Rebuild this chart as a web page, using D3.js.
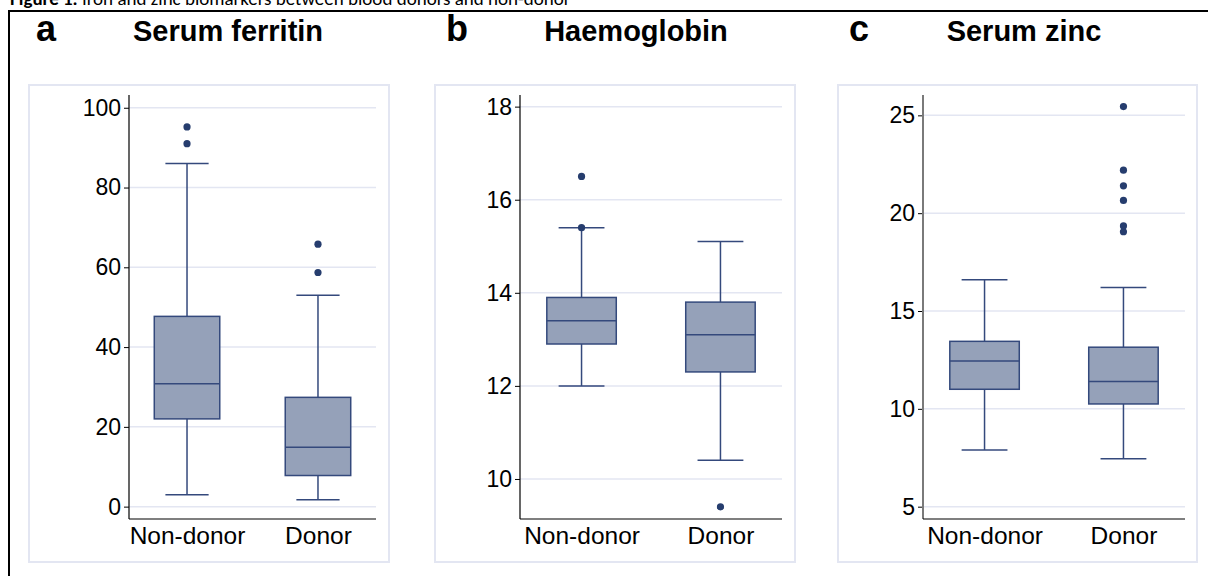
<!DOCTYPE html>
<html>
<head>
<meta charset="utf-8">
<script src="https://cdn.jsdelivr.net/npm/d3@7"></script>
<style>
  html, body { margin: 0; padding: 0; background: #fff; }
  svg { display: block; }
</style>
</head>
<body>
<svg id="chart" width="1208" height="576"></svg>
<script>
// ---------- DATA ----------
const categories = ["Non-donor", "Donor"];

// [lower whisker, Q1, median, Q3, upper whisker]
const ferritinBox = [[3.0, 22.0, 30.8, 47.7, 86.0], [1.7, 7.8, 14.9, 27.4, 53.0]];
const ferritinOutliers = [[91.0, 95.2], [58.7, 65.8]];
const ferritinTicks = [0, 20, 40, 60, 80, 100];

const haemoglobinBox = [[12.0, 12.9, 13.4, 13.9, 15.4], [10.4, 12.3, 13.1, 13.8, 15.1]];
const haemoglobinOutliers = [[15.4, 16.5], [9.4]];
const haemoglobinTicks = [10, 12, 14, 16, 18];

const zincBox = [[7.9, 11.0, 12.45, 13.45, 16.6], [7.45, 10.25, 11.4, 13.15, 16.2]];
const zincOutliers = [[], [19.05, 19.35, 20.65, 21.4, 22.2, 25.45]];
const zincTicks = [5, 10, 15, 20, 25];

const panelLetters = ["a", "b", "c"];
const panelTitles = ["Serum ferritin", "Haemoglobin", "Serum zinc"];
const captionBold = "Figure 1.";
const captionText = " Iron and zinc biomarkers between blood donors and non-donor";

// ---------- DRAW ----------
const svg = d3.select("#chart");
const FONT = "'Liberation Sans', Arial, sans-serif";

// caption (clipped at top, as in the reference)
const cap = svg.append("text").attr("x", 10).attr("y", 5)
  .attr("font-family", "Carlito, 'Liberation Sans', Arial, sans-serif").attr("font-size", 19).attr("fill", "#000");
cap.append("tspan").attr("font-weight", "bold").text(captionBold);
cap.append("tspan").text(captionText);

// outer frame
svg.append("rect").attr("x", 9).attr("y", 11).attr("width", 1400).attr("height", 800)
  .attr("fill", "none").attr("stroke", "#000").attr("stroke-width", 2);

const panels = [
  { box: ferritinBox, out: ferritinOutliers, ticks: ferritinTicks, domain: [-3.1, 103.2],
    frame: [29, 389], axisX: 129, right: 376, letterX: 36, titleX: 228, axisColor: "#000", axisW: 1.2 },
  { box: haemoglobinBox, out: haemoglobinOutliers, ticks: haemoglobinTicks, domain: [9.14, 18.25],
    frame: [435, 795], axisX: 520, right: 782, letterX: 446, titleX: 636, axisColor: "#000", axisW: 1.2 },
  { box: zincBox, out: zincOutliers, ticks: zincTicks, domain: [4.37, 26.04],
    frame: [838, 1197], axisX: 923, right: 1185, letterX: 849, titleX: 1024, axisColor: "#7a7a7a", axisW: 2 }
];

const TOP = 95, BOTTOM = 519;
const FRAME_TOP = 85, FRAME_BOTTOM = 562;

panels.forEach((p, i) => {
  const g = svg.append("g");

  // light panel frame
  g.append("rect").attr("x", p.frame[0]).attr("y", FRAME_TOP)
    .attr("width", p.frame[1] - p.frame[0]).attr("height", FRAME_BOTTOM - FRAME_TOP)
    .attr("fill", "none").attr("stroke", "#e3e6f2").attr("stroke-width", 2);

  // letter + title
  g.append("text").attr("x", p.letterX).attr("y", 41).attr("font-family", FONT)
    .attr("font-weight", "bold").attr("font-size", 36).text(panelLetters[i]);
  g.append("text").attr("x", p.titleX).attr("y", 41).attr("text-anchor", "middle")
    .attr("font-family", FONT).attr("font-weight", "bold").attr("font-size", 29).text(panelTitles[i]);

  const y = d3.scaleLinear().domain(p.domain).range([BOTTOM, TOP]);
  const x = d3.scalePoint().domain(categories).range([p.axisX, p.right]).padding(0.443);
  const step = x.step();
  const boxW = step * 0.5, capW = step * 0.33;

  // gridlines
  g.append("g").selectAll("line").data(p.ticks).join("line")
    .attr("x1", p.axisX).attr("x2", p.right)
    .attr("y1", d => y(d)).attr("y2", d => y(d))
    .attr("stroke", "#e3e6f2").attr("stroke-width", 1.5);

  // y axis
  const ya = g.append("g").attr("transform", `translate(${p.axisX},0)`)
    .call(d3.axisLeft(y).tickValues(p.ticks).tickSize(5).tickPadding(3).tickFormat(d3.format("d")));
  ya.select(".domain").remove();
  ya.selectAll(".tick line").attr("stroke", "#000").attr("stroke-width", 1);
  ya.selectAll(".tick text").attr("font-family", FONT).attr("font-size", 23).attr("fill", "#000");
  g.append("line").attr("x1", p.axisX).attr("x2", p.axisX).attr("y1", TOP).attr("y2", BOTTOM)
    .attr("stroke", p.axisColor).attr("stroke-width", p.axisW);

  // x axis
  const xa = g.append("g").attr("transform", `translate(0,${BOTTOM})`)
    .call(d3.axisBottom(x).tickSize(0).tickPadding(8));
  xa.select(".domain").remove();
  xa.selectAll(".tick text").attr("font-family", FONT).attr("font-size", 24.5).attr("fill", "#000");
  g.append("line").attr("x1", p.axisX).attr("x2", p.right).attr("y1", BOTTOM).attr("y2", BOTTOM)
    .attr("stroke", "#000").attr("stroke-width", 1.2);

  const STROKE = "#34497c";
  categories.forEach((c, k) => {
    const [lo, q1, med, q3, hi] = p.box[k];
    const X = x(c);
    // whiskers
    g.append("line").attr("x1", X).attr("x2", X).attr("y1", y(hi)).attr("y2", y(q3))
      .attr("stroke", STROKE).attr("stroke-width", 1.5);
    g.append("line").attr("x1", X).attr("x2", X).attr("y1", y(q1)).attr("y2", y(lo))
      .attr("stroke", STROKE).attr("stroke-width", 1.5);
    [lo, hi].forEach(v => g.append("line").attr("x1", X - capW / 2).attr("x2", X + capW / 2)
      .attr("y1", y(v)).attr("y2", y(v)).attr("stroke", STROKE).attr("stroke-width", 1.5));
    // box
    g.append("rect").attr("x", X - boxW / 2).attr("y", y(q3)).attr("width", boxW)
      .attr("height", y(q1) - y(q3)).attr("fill", "#95a1b9").attr("stroke", STROKE).attr("stroke-width", 1.5);
    g.append("line").attr("x1", X - boxW / 2).attr("x2", X + boxW / 2)
      .attr("y1", y(med)).attr("y2", y(med)).attr("stroke", STROKE).attr("stroke-width", 1.5);
    // outliers
    g.append("g").selectAll("circle").data(p.out[k]).join("circle")
      .attr("cx", X).attr("cy", d => y(d)).attr("r", 3.6).attr("fill", "#263d6e");
  });
});
</script>
</body>
</html>
